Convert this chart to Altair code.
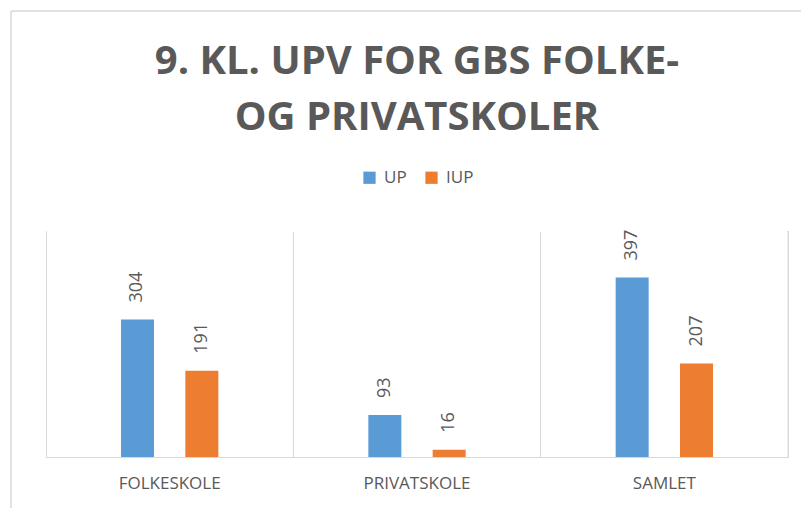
import altair as alt
import pandas as pd

categories = ["FOLKESKOLE", "PRIVATSKOLE", "SAMLET"]
series = ["UP", "IUP"]
up_values = [304, 93, 397]
iup_values = [191, 16, 207]
colors = ["#5b9bd5", "#ed7d31"]

rows = []
for i, c in enumerate(categories):
    rows.append({"Skole": c, "Serie": "UP", "Antal": up_values[i]})
    rows.append({"Skole": c, "Serie": "IUP", "Antal": iup_values[i]})
df = pd.DataFrame(rows)

W, H = 742, 226
GRID = "#d9d9d9"
TXT = "#595959"
FONT = "Open Sans"

x_enc = alt.X(
    "Skole:N",
    sort=categories,
    scale=alt.Scale(paddingInner=0, paddingOuter=0),
    axis=alt.Axis(
        title=None,
        labelAngle=0,
        labelFont=FONT,
        labelFontSize=17,
        labelColor=TXT,
        labelPadding=18,
        ticks=False,
        domainColor=GRID,
        domainWidth=1,
        grid=True,
        gridColor=GRID,
        gridWidth=1,
        bandPosition=0,
    ),
)
xoff_enc = alt.XOffset(
    "Serie:N", sort=series, scale=alt.Scale(paddingInner=0, paddingOuter=0.922)
)
y_enc = alt.Y("Antal:Q", scale=alt.Scale(domain=[0, 500]), axis=None)

base = alt.Chart(df)

bars = base.mark_bar(width=33).encode(
    x=x_enc,
    xOffset=xoff_enc,
    y=y_enc,
    color=alt.Color(
        "Serie:N",
        sort=series,
        scale=alt.Scale(domain=series, range=colors),
        legend=alt.Legend(
            title=None,
            orient="none",
            legendX=315,
            legendY=-62,
            direction="horizontal",
            symbolType="square",
            symbolSize=150,
            symbolStrokeWidth=0,
            labelFont=FONT,
            labelFontSize=17,
            labelColor=TXT,
            labelOffset=6,
            columnPadding=16,
            padding=0,
        ),
    ),
)

labels = base.mark_text(
    angle=270, align="left", baseline="middle", dx=17,
    font=FONT, fontSize=18, color=TXT,
).encode(x=x_enc, xOffset=xoff_enc, y=y_enc, text=alt.Text("Antal:Q"))

deco = alt.Chart(pd.DataFrame({"k": [0]}))
top_cover = deco.mark_rule(color="white", strokeWidth=2).encode(
    x=alt.value(1), x2=alt.value(W - 1), y=alt.value(0)
)
right_edge = deco.mark_rule(color=GRID, strokeWidth=1).encode(
    x=alt.value(W), y=alt.value(0), y2=alt.value(H)
)
border_left = deco.mark_rule(color=GRID, strokeWidth=1.5).encode(
    x=alt.value(-35), y=alt.value(-220), y2=alt.value(300)
)
border_top = deco.mark_rule(color=GRID, strokeWidth=1.5).encode(
    x=alt.value(-35), x2=alt.value(W + 40), y=alt.value(-220)
)

chart = (
    alt.layer(top_cover, bars, labels, right_edge, border_left, border_top)
    .properties(
        width=W,
        height=H,
        autosize=alt.AutoSizeParams(type="none"),
        padding={"left": 46, "top": 231, "right": 13, "bottom": 51},
        title=alt.TitleParams(
            text=["9. KL. UPV FOR GBS FOLKE-", "OG PRIVATSKOLER"],
            font=FONT,
            fontSize=40,
            fontWeight="bold",
            color=TXT,
            lineHeight=56,
            anchor="middle",
            frame="group",
            offset=10,
            dy=138,
        ),
    )
    .configure_view(strokeOpacity=0)
    .configure(background="white")
)

chart.save("out.html", embed_options={"renderer": "svg", "actions": False})
